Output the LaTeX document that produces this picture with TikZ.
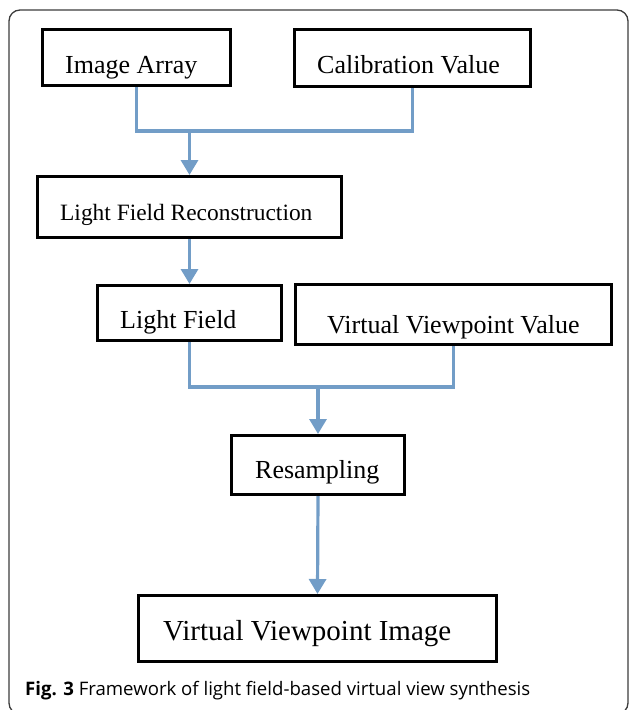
\documentclass[tikz,border=0pt]{standalone}
\usepackage{fontspec}
\setmainfont{Liberation Serif}
\newfontfamily\capfont{Open Sans}
\usetikzlibrary{arrows.meta}
\definecolor{connblue}{RGB}{114,157,199}
\definecolor{framegray}{RGB}{60,60,60}
\tikzset{
  stepbox/.style={draw=black, line width=3pt, fill=none, inner sep=0pt, rectangle},
  conn/.style={draw=connblue, line width=3.2pt},
  arr/.style={conn, -{Triangle[width=17pt,length=15pt]}},
  lbl/.style={anchor=base west, inner sep=0pt, font=\fontsize{26}{30}\selectfont},
}
\begin{document}
\begin{tikzpicture}[x=1pt,y=-1pt]
\useasboundingbox (0,0) rectangle (630,710);
\draw[framegray, line width=1.3pt, rounded corners=11pt] (9,10) rectangle (628,714);
% boxes (outer extents minus line width)
\node[stepbox, minimum width=188pt, minimum height=56pt] (ia) at (136.5,57.5) {};
\node[stepbox, minimum width=236pt, minimum height=57pt] (cv) at (412.5,58) {};
\node[stepbox, minimum width=304pt, minimum height=61pt] (lfr) at (189.5,207) {};
\node[stepbox, minimum width=184pt, minimum height=55pt] (lf) at (189.5,313) {};
\node[stepbox, minimum width=316pt, minimum height=60pt] (vv) at (453.5,314.5) {};
\node[stepbox, minimum width=173pt, minimum height=59pt] (rs) at (318,465) {};
\node[stepbox, minimum width=358pt, minimum height=66pt] (vi) at (317.5,628.5) {};
% texts
\node[lbl] (tia) at (65,73) {Image Array};
\node[lbl] (tcv) at (317,73) {Calibration Value};
\node[lbl, font=\fontsize{23.4}{28}\selectfont] (tlfr) at (60,220) {Light Field Reconstruction};
\node[lbl] (tlf) at (120,328) {Light Field};
\node[lbl] (tvv) at (327,333) {Virtual Viewpoint Value};
\node[lbl] (trs) at (255,478) {Resampling};
\node[lbl, font=\fontsize{29}{34}\selectfont] (tvi) at (163,640) {Virtual Viewpoint Image};
% connectors
\coordinate (j1) at (189.5,131);
\coordinate (j2) at (318,387);
\draw[conn] (ia.south) |- (j1) -| (cv.south);
\draw[arr] (j1) -- (lfr.north);
\draw[arr] (lfr.south) -- (lf.north);
\draw[conn] (lf.south) |- (j2) -| (vv.south);
\draw[arr] (j2) -- (rs.north);
\draw[arr] (rs.south) -- (vi.north);
% caption
\node[anchor=base west, inner sep=0pt, font=\capfont\fontsize{18.6}{22}\selectfont] (cap) at (25,695) {\textbf{Fig. 3} Framework of light field-based virtual view synthesis};
\end{tikzpicture}
\end{document}
